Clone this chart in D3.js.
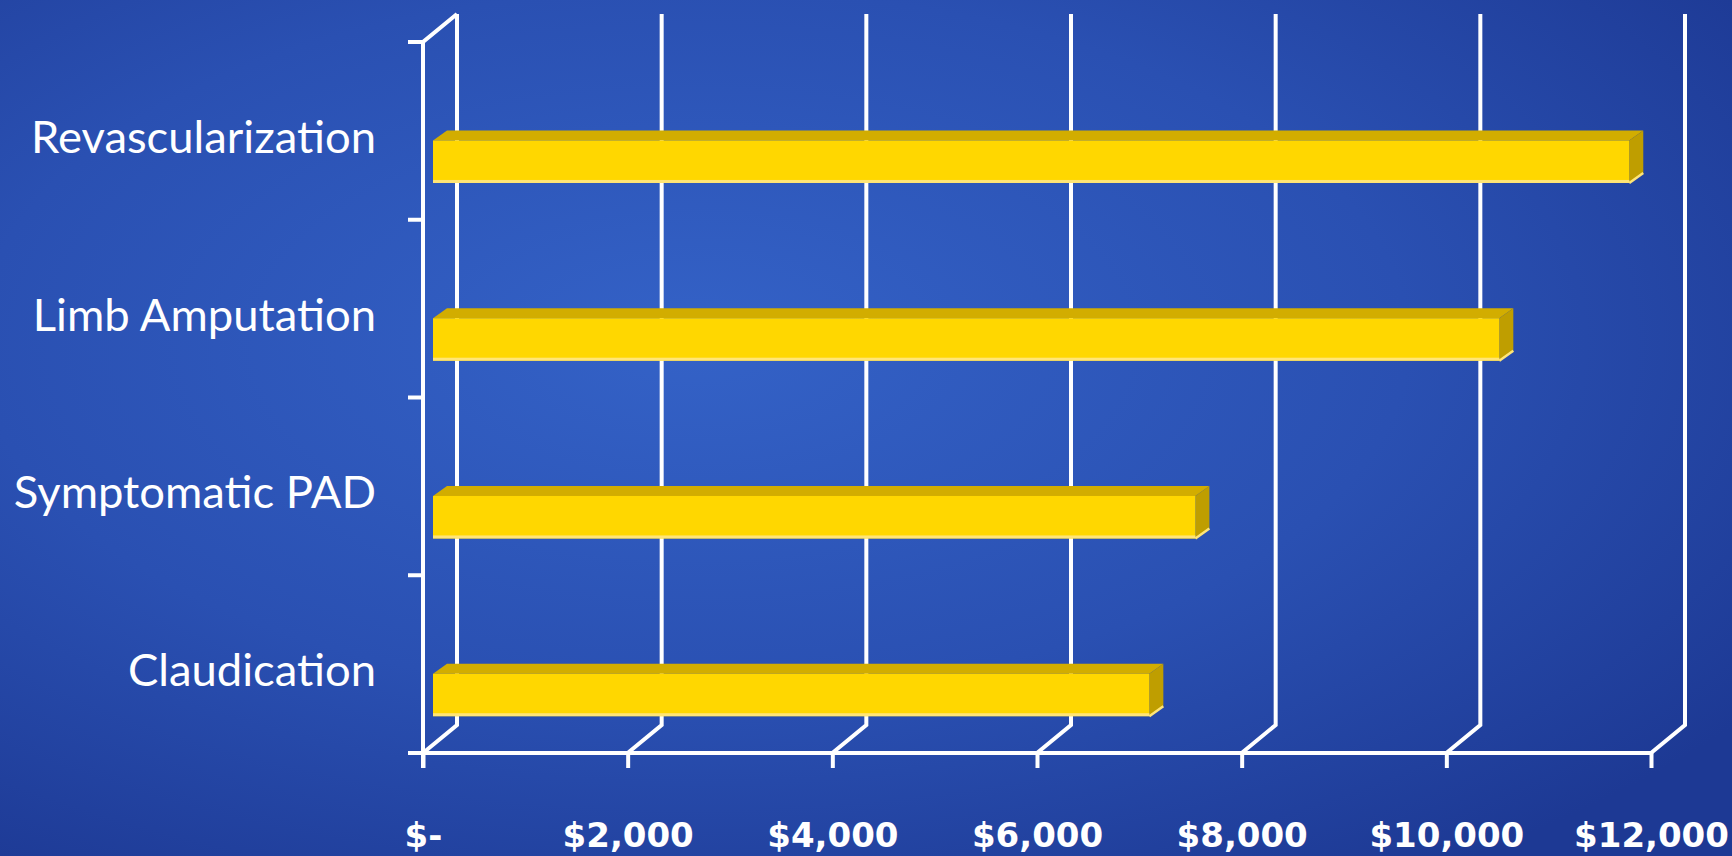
<!DOCTYPE html>
<html>
<head>
<meta charset="utf-8">
<script src="https://cdn.jsdelivr.net/npm/d3@7"></script>
<style>
  html, body { margin: 0; padding: 0; background: #2547a8; }
  svg { display: block; }
</style>
</head>
<body>
<svg id="chart" width="1732" height="856"></svg>
<script>
// ---- data ----
const categories = ["Revascularization", "Limb Amputation", "Symptomatic PAD", "Claudication"];
const costs = [11690, 10420, 7450, 7000];
const tickValues = [0, 2000, 4000, 6000, 8000, 10000, 12000];
const tickLabels = ["$-", "$2,000", "$4,000", "$6,000", "$8,000", "$10,000", "$12,000"];

// ---- layout ----
const W = 1732, H = 856;
const plot = { left: 423, right: 1651, top: 42, bottom: 753 };
const wall = { dx: 34, dy: -28 };       // depth of the chart box
const barOff = { dx: 10, dy: -8 };      // bar front plane offset
const barDepth = { dx: 14, dy: -10 };   // bar thickness
const lineW = 4;

const svg = d3.select("#chart");

// background
const defs = svg.append("defs");
const rg = defs.append("radialGradient").attr("id", "bg")
  .attr("cx", "40%").attr("cy", "40%").attr("r", "75%");
rg.append("stop").attr("offset", "0%").attr("stop-color", "#3462c7");
rg.append("stop").attr("offset", "55%").attr("stop-color", "#2a50b2");
rg.append("stop").attr("offset", "100%").attr("stop-color", "#1d3994");
svg.append("rect").attr("width", W).attr("height", H).attr("fill", "url(#bg)");

const x = d3.scaleLinear().domain([0, 12000]).range([plot.left, plot.right]);
const y = d3.scaleBand().domain(categories).range([plot.top, plot.bottom]).paddingInner(0).paddingOuter(0);
const bw = y.bandwidth();

const grid = svg.append("g").attr("stroke", "#ffffff").attr("stroke-width", lineW).attr("fill", "none");

// floor diagonals + back wall verticals
tickValues.forEach(v => {
  const fx = x(v), bx = x(v) + wall.dx;
  grid.append("path")
    .attr("d", `M${fx},${plot.bottom} L${bx},${plot.bottom + wall.dy} L${bx},${plot.top + wall.dy}`)
    .attr("stroke-linejoin", "miter");
});
// left wall: front vertical axis + top diagonal
grid.append("path")
  .attr("d", `M${x(0)},${plot.bottom + 15} L${x(0)},${plot.top} L${x(0) + wall.dx},${plot.top + wall.dy}`);
// front horizontal axis
grid.append("line")
  .attr("x1", x(0) - 15).attr("x2", plot.right)
  .attr("y1", plot.bottom).attr("y2", plot.bottom);

// category ticks on the left (band edges)
const edges = categories.map(c => y(c)).concat([plot.bottom]);
grid.selectAll("line.ctick").data(edges).join("line")
  .attr("class", "ctick")
  .attr("x1", x(0) - 15).attr("x2", x(0))
  .attr("y1", d => d).attr("y2", d => d);

// x axis ticks and labels via d3 axis
const xAxis = d3.axisBottom(x)
  .tickValues(tickValues)
  .tickFormat((d, i) => tickLabels[i])
  .tickSize(15)
  .tickSizeOuter(0);
const gx = svg.append("g").attr("transform", `translate(0,${plot.bottom})`).call(xAxis);
gx.select(".domain").remove();
gx.selectAll(".tick line").attr("stroke", "#ffffff").attr("stroke-width", lineW);
gx.selectAll(".tick text")
  .attr("fill", "#ffffff")
  .attr("y", 94).attr("dy", 0)
  .style("font-family", "'DejaVu Sans', Verdana, sans-serif")
  .style("font-weight", "bold")
  .style("font-size", "34px");

// bars
const bars = svg.append("g");
categories.forEach((c, i) => {
  const x0 = x(0) + barOff.dx;
  const x1 = x(costs[i]) + barOff.dx;
  const top = y(c) + bw * 0.554;
  const h = bw * 0.239;
  const bot = top + h;
  const g = bars.append("g");
  // top face
  g.append("path")
    .attr("d", `M${x0},${top} L${x1},${top} L${x1 + barDepth.dx},${top + barDepth.dy} L${x0 + barDepth.dx},${top + barDepth.dy} Z`)
    .attr("fill", "#d2ad00");
  // side face
  g.append("path")
    .attr("d", `M${x1},${top} L${x1 + barDepth.dx},${top + barDepth.dy} L${x1 + barDepth.dx},${bot + barDepth.dy} L${x1},${bot} Z`)
    .attr("fill", "#bf9e00");
  // front face
  g.append("rect")
    .attr("x", x0).attr("y", top).attr("width", x1 - x0).attr("height", h)
    .attr("fill", "#ffd700");
  // light bottom edge
  g.append("rect")
    .attr("x", x0).attr("y", bot - 3).attr("width", x1 - x0).attr("height", 3)
    .attr("fill", "#ffe577");
  g.append("path")
    .attr("d", `M${x1},${bot} L${x1 + barDepth.dx},${bot + barDepth.dy}`)
    .attr("stroke", "#ffe577").attr("stroke-width", 2.5);
});

// category labels
const labels = svg.append("g")
  .style("font-family", "Lato, 'Open Sans', sans-serif")
  .style("font-size", "40px")
  .attr("fill", "#ffffff")
  .attr("text-anchor", "end");
const lt = labels.selectAll("text").data(categories).join("text")
  .attr("x", 376)
  .attr("y", d => y(d) + bw / 2 + 22)
  .text(d => d);
// scale font so the label width matches the original
const w0 = lt.filter(d => d === "Revascularization").node().getComputedTextLength();
const fs = 40 * 345 / w0;
labels.style("font-size", fs + "px");
</script>
</body>
</html>
